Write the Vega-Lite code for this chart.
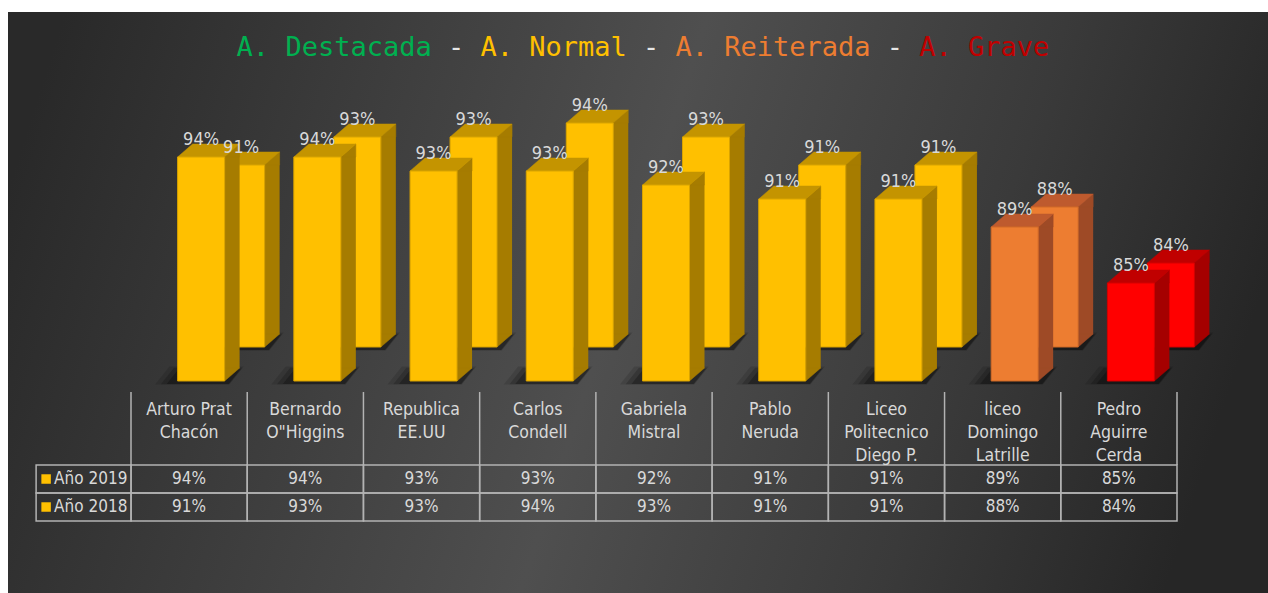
{
  "$schema": "https://vega.github.io/schema/vega-lite/v6.json",
  "width": 1268,
  "height": 593,
  "autosize": {"type": "fit", "contains": "padding"},
  "padding": {"left": 8, "top": 12, "right": 0, "bottom": 0},
  "background": "#ffffff",
  "view": {
    "stroke": null,
    "fill": {
      "gradient": "linear",
      "x1": 0, "y1": 0.3, "x2": 1, "y2": 0.45,
      "stops": [
        {"offset": 0, "color": "#292929"},
        {"offset": 0.22, "color": "#3a3a3a"},
        {"offset": 0.5, "color": "#4f4f4f"},
        {"offset": 0.78, "color": "#3a3a3a"},
        {"offset": 1, "color": "#262626"}
      ]
    }
  },
  "config": {
    "text": {"font": "DejaVu Sans Condensed, Liberation Sans Narrow, Roboto, sans-serif"}
  },
  "data": {
    "values": [
      {"school": "Arturo Prat\nChacón", "year": 2019, "value": 0.94},
      {"school": "Arturo Prat\nChacón", "year": 2018, "value": 0.91},
      {"school": "Bernardo\nO\"Higgins", "year": 2019, "value": 0.94},
      {"school": "Bernardo\nO\"Higgins", "year": 2018, "value": 0.93},
      {"school": "Republica\nEE.UU", "year": 2019, "value": 0.93},
      {"school": "Republica\nEE.UU", "year": 2018, "value": 0.93},
      {"school": "Carlos\nCondell", "year": 2019, "value": 0.93},
      {"school": "Carlos\nCondell", "year": 2018, "value": 0.94},
      {"school": "Gabriela\nMistral", "year": 2019, "value": 0.92},
      {"school": "Gabriela\nMistral", "year": 2018, "value": 0.93},
      {"school": "Pablo\nNeruda", "year": 2019, "value": 0.91},
      {"school": "Pablo\nNeruda", "year": 2018, "value": 0.91},
      {"school": "Liceo\nPolitecnico\nDiego P.", "year": 2019, "value": 0.91},
      {"school": "Liceo\nPolitecnico\nDiego P.", "year": 2018, "value": 0.91},
      {"school": "liceo\nDomingo\nLatrille", "year": 2019, "value": 0.89},
      {"school": "liceo\nDomingo\nLatrille", "year": 2018, "value": 0.88},
      {"school": "Pedro\nAguirre\nCerda", "year": 2019, "value": 0.85},
      {"school": "Pedro\nAguirre\nCerda", "year": 2018, "value": 0.84}
    ]
  },
  "encoding": {
    "x": {
      "field": "school", "type": "nominal", "sort": null, "axis": null,
      "scale": {
        "type": "band",
        "domain": ["Arturo Prat\nChacón", "Bernardo\nO\"Higgins", "Republica\nEE.UU", "Carlos\nCondell", "Gabriela\nMistral", "Pablo\nNeruda", "Liceo\nPolitecnico\nDiego P.", "liceo\nDomingo\nLatrille", "Pedro\nAguirre\nCerda"],
        "range": [123, 1169],
        "paddingInner": 0,
        "paddingOuter": 0
      }
    }
  },
  "resolve": {"scale": {"y": "independent"}},
  "layer": [
    {
      "encoding": {
        "y": {"field": "value", "type": "quantitative", "axis": null,
              "scale": {"domain": [0.62857, 1.04357], "nice": false, "zero": false}}
      },
      "layer": [
        {
          "transform": [{"filter": "datum.year === 2018"}],
          "mark": {"type": "point", "filled": true, "size": 5.76, "shape": "M-58,3L4,3L16,-12L-46,-12Z", "xOffset": 75.5, "yOffset": -34, "fill": "#000000", "opacity": 0.12, "strokeWidth": 0},
          "encoding": {"y": {"datum": 0.78}}
        },
        {
          "transform": [{"filter": "datum.year === 2018"}],
          "mark": {"type": "point", "filled": true, "size": 4.84, "shape": "M-58,3L4,3L16,-12L-46,-12Z", "xOffset": 75.5, "yOffset": -34, "fill": "#000000", "opacity": 0.18, "strokeWidth": 0},
          "encoding": {"y": {"datum": 0.78}}
        },
        {
          "transform": [{"filter": "datum.year === 2018"}],
          "mark": {"type": "point", "filled": true, "size": 4, "shape": "M-58,3L4,3L16,-12L-46,-12Z", "xOffset": 75.5, "yOffset": -34, "fill": "#000000", "opacity": 0.25, "strokeWidth": 0},
          "encoding": {"y": {"datum": 0.78}}
        },
        {
          "transform": [{"filter": "datum.year === 2019"}],
          "mark": {"type": "point", "filled": true, "size": 5.76, "shape": "M-58,3L4,3L16,-12L-46,-12Z", "xOffset": 35.5, "fill": "#000000", "opacity": 0.12, "strokeWidth": 0},
          "encoding": {"y": {"datum": 0.78}}
        },
        {
          "transform": [{"filter": "datum.year === 2019"}],
          "mark": {"type": "point", "filled": true, "size": 4.84, "shape": "M-58,3L4,3L16,-12L-46,-12Z", "xOffset": 35.5, "fill": "#000000", "opacity": 0.18, "strokeWidth": 0},
          "encoding": {"y": {"datum": 0.78}}
        },
        {
          "transform": [{"filter": "datum.year === 2019"}],
          "mark": {"type": "point", "filled": true, "size": 4, "shape": "M-58,3L4,3L16,-12L-46,-12Z", "xOffset": 35.5, "fill": "#000000", "opacity": 0.25, "strokeWidth": 0},
          "encoding": {"y": {"datum": 0.78}}
        },
        {
          "transform": [{"filter": "datum.year === 2018"}],
          "mark": {"type": "bar", "width": 15, "xOffset": 83, "yOffset": -34, "y2Offset": -47},
          "encoding": {
            "y2": {"datum": 0.78},
            "fill": {"condition": [{"test": "datum.school === 'Pedro\\nAguirre\\nCerda'", "value": "#A50000"}, {"test": "datum.school === 'liceo\\nDomingo\\nLatrille'", "value": "#9E4A26"}], "value": "#A67C00"}
          }
        },
        {
          "transform": [{"filter": "datum.year === 2018"}],
          "mark": {"type": "point", "filled": true, "opacity": 1, "size": 4, "shape": "M0,0L15,-13L15,0Z", "xOffset": 75.5, "yOffset": -34, "strokeWidth": 0.5},
          "encoding": {
            "fill": {"condition": [{"test": "datum.school === 'Pedro\\nAguirre\\nCerda'", "value": "#A50000"}, {"test": "datum.school === 'liceo\\nDomingo\\nLatrille'", "value": "#9E4A26"}], "value": "#A67C00"},
            "stroke": {"condition": [{"test": "datum.school === 'Pedro\\nAguirre\\nCerda'", "value": "#A50000"}, {"test": "datum.school === 'liceo\\nDomingo\\nLatrille'", "value": "#9E4A26"}], "value": "#A67C00"}
          }
        },
        {
          "transform": [{"filter": "datum.year === 2018"}],
          "mark": {"type": "point", "filled": true, "opacity": 1, "size": 4, "shape": "M0,-13L15,-13L0,0Z", "xOffset": 75.5, "yOffset": -34, "strokeWidth": 0.5},
          "encoding": {
            "y": {"datum": 0.78},
            "fill": {"condition": [{"test": "datum.school === 'Pedro\\nAguirre\\nCerda'", "value": "#A50000"}, {"test": "datum.school === 'liceo\\nDomingo\\nLatrille'", "value": "#9E4A26"}], "value": "#A67C00"},
            "stroke": {"condition": [{"test": "datum.school === 'Pedro\\nAguirre\\nCerda'", "value": "#A50000"}, {"test": "datum.school === 'liceo\\nDomingo\\nLatrille'", "value": "#9E4A26"}], "value": "#A67C00"}
          }
        },
        {
          "transform": [{"filter": "datum.year === 2018"}],
          "mark": {"type": "point", "filled": true, "opacity": 1, "size": 4, "shape": "M-47,0L0,0L15,-13L-32,-13Z", "xOffset": 75.5, "yOffset": -34, "strokeWidth": 0.5},
          "encoding": {
            "fill": {"condition": [{"test": "datum.school === 'Pedro\\nAguirre\\nCerda'", "value": "#C00000"}, {"test": "datum.school === 'liceo\\nDomingo\\nLatrille'", "value": "#BE5A2E"}], "value": "#C49400"},
            "stroke": {"condition": [{"test": "datum.school === 'Pedro\\nAguirre\\nCerda'", "value": "#C00000"}, {"test": "datum.school === 'liceo\\nDomingo\\nLatrille'", "value": "#BE5A2E"}], "value": "#C49400"}
          }
        },
        {
          "transform": [{"filter": "datum.year === 2018"}],
          "mark": {"type": "bar", "width": 47, "xOffset": 52, "yOffset": -34, "y2Offset": -34, "strokeWidth": 1},
          "encoding": {
            "y2": {"datum": 0.78},
            "fill": {"condition": [{"test": "datum.school === 'Pedro\\nAguirre\\nCerda'", "value": "#FF0000"}, {"test": "datum.school === 'liceo\\nDomingo\\nLatrille'", "value": "#ED7D31"}], "value": "#FFC000"},
            "stroke": {"condition": [{"test": "datum.school === 'Pedro\\nAguirre\\nCerda'", "value": "#D40000"}, {"test": "datum.school === 'liceo\\nDomingo\\nLatrille'", "value": "#D06A28"}], "value": "#D9A300"}
          }
        },
        {
          "transform": [{"filter": "datum.year === 2019"}],
          "mark": {"type": "bar", "width": 15, "xOffset": 43, "y2Offset": -13},
          "encoding": {
            "y2": {"datum": 0.78},
            "fill": {"condition": [{"test": "datum.school === 'Pedro\\nAguirre\\nCerda'", "value": "#A50000"}, {"test": "datum.school === 'liceo\\nDomingo\\nLatrille'", "value": "#9E4A26"}], "value": "#A67C00"}
          }
        },
        {
          "transform": [{"filter": "datum.year === 2019"}],
          "mark": {"type": "point", "filled": true, "opacity": 1, "size": 4, "shape": "M0,0L15,-13L15,0Z", "xOffset": 35.5, "strokeWidth": 0.5},
          "encoding": {
            "fill": {"condition": [{"test": "datum.school === 'Pedro\\nAguirre\\nCerda'", "value": "#A50000"}, {"test": "datum.school === 'liceo\\nDomingo\\nLatrille'", "value": "#9E4A26"}], "value": "#A67C00"},
            "stroke": {"condition": [{"test": "datum.school === 'Pedro\\nAguirre\\nCerda'", "value": "#A50000"}, {"test": "datum.school === 'liceo\\nDomingo\\nLatrille'", "value": "#9E4A26"}], "value": "#A67C00"}
          }
        },
        {
          "transform": [{"filter": "datum.year === 2019"}],
          "mark": {"type": "point", "filled": true, "opacity": 1, "size": 4, "shape": "M0,-13L15,-13L0,0Z", "xOffset": 35.5, "strokeWidth": 0.5},
          "encoding": {
            "y": {"datum": 0.78},
            "fill": {"condition": [{"test": "datum.school === 'Pedro\\nAguirre\\nCerda'", "value": "#A50000"}, {"test": "datum.school === 'liceo\\nDomingo\\nLatrille'", "value": "#9E4A26"}], "value": "#A67C00"},
            "stroke": {"condition": [{"test": "datum.school === 'Pedro\\nAguirre\\nCerda'", "value": "#A50000"}, {"test": "datum.school === 'liceo\\nDomingo\\nLatrille'", "value": "#9E4A26"}], "value": "#A67C00"}
          }
        },
        {
          "transform": [{"filter": "datum.year === 2019"}],
          "mark": {"type": "point", "filled": true, "opacity": 1, "size": 4, "shape": "M-47,0L0,0L15,-13L-32,-13Z", "xOffset": 35.5, "strokeWidth": 0.5},
          "encoding": {
            "fill": {"condition": [{"test": "datum.school === 'Pedro\\nAguirre\\nCerda'", "value": "#C00000"}, {"test": "datum.school === 'liceo\\nDomingo\\nLatrille'", "value": "#BE5A2E"}], "value": "#C49400"},
            "stroke": {"condition": [{"test": "datum.school === 'Pedro\\nAguirre\\nCerda'", "value": "#C00000"}, {"test": "datum.school === 'liceo\\nDomingo\\nLatrille'", "value": "#BE5A2E"}], "value": "#C49400"}
          }
        },
        {
          "transform": [{"filter": "datum.year === 2019"}],
          "mark": {"type": "bar", "width": 47, "xOffset": 12, "strokeWidth": 1},
          "encoding": {
            "y2": {"datum": 0.78},
            "fill": {"condition": [{"test": "datum.school === 'Pedro\\nAguirre\\nCerda'", "value": "#FF0000"}, {"test": "datum.school === 'liceo\\nDomingo\\nLatrille'", "value": "#ED7D31"}], "value": "#FFC000"},
            "stroke": {"condition": [{"test": "datum.school === 'Pedro\\nAguirre\\nCerda'", "value": "#D40000"}, {"test": "datum.school === 'liceo\\nDomingo\\nLatrille'", "value": "#D06A28"}], "value": "#D9A300"}
          }
        },
        {
          "transform": [{"filter": "datum.year === 2018"}],
          "mark": {"type": "text", "xOffset": 52, "yOffset": -46, "baseline": "alphabetic", "align": "center", "fontSize": 18, "fill": "#D9D9D9"},
          "encoding": {"text": {"field": "value", "type": "quantitative", "format": ".0%"}}
        },
        {
          "transform": [{"filter": "datum.year === 2019"}],
          "mark": {"type": "text", "xOffset": 12, "yOffset": -12, "baseline": "alphabetic", "align": "center", "fontSize": 18, "fill": "#D9D9D9"},
          "encoding": {"text": {"field": "value", "type": "quantitative", "format": ".0%"}}
        }
      ]
    },
    {
      "encoding": {
        "y": {"field": "year", "type": "quantitative", "axis": null,
              "scale": {"domain": [2014.929, 2035.679], "nice": false, "zero": false}}
      },
      "layer": [
        {
          "mark": {"type": "bar", "fillOpacity": 0, "stroke": "#B3B3B3", "strokeWidth": 1.5, "yOffset": -14, "y2Offset": 14},
          "encoding": {"y2": {"field": "year"}}
        },
        {
          "transform": [{"filter": "datum.school === 'Arturo Prat\\nChacón'"}],
          "mark": {"type": "bar", "width": 95, "xOffset": -105.5, "fillOpacity": 0, "stroke": "#B3B3B3", "strokeWidth": 1.5, "yOffset": -14, "y2Offset": 14},
          "encoding": {"y2": {"field": "year"}}
        },
        {
          "transform": [{"filter": "datum.year === 2019"}],
          "mark": {"type": "rule", "stroke": "#B3B3B3", "strokeWidth": 1.5},
          "encoding": {
            "x": {"field": "school", "type": "nominal", "bandPosition": 0},
            "y": {"datum": 2022.107},
            "y2": {"datum": 2019.5}
          }
        },
        {
          "transform": [{"filter": "datum.year === 2019 && datum.school === 'Pedro\\nAguirre\\nCerda'"}],
          "mark": {"type": "rule", "stroke": "#B3B3B3", "strokeWidth": 1.5},
          "encoding": {
            "x": {"field": "school", "type": "nominal", "bandPosition": 1},
            "y": {"datum": 2022.107},
            "y2": {"datum": 2019.5}
          }
        },
        {
          "transform": [{"filter": "datum.year === 2019"}],
          "mark": {"type": "text", "baseline": "top", "align": "center", "lineBreak": "\n", "lineHeight": 23, "fontSize": 17.5, "fill": "#D9D9D9"},
          "encoding": {
            "y": {"datum": 2021.8},
            "text": {"field": "school", "type": "nominal"}
          }
        },
        {
          "mark": {"type": "text", "baseline": "middle", "align": "center", "fontSize": 17, "fill": "#D9D9D9"},
          "encoding": {"text": {"field": "value", "type": "quantitative", "format": ".0%"}}
        },
        {
          "transform": [{"filter": "datum.school === 'Arturo Prat\\nChacón'"}],
          "mark": {"type": "point", "shape": "square", "filled": true, "opacity": 1, "size": 90, "fill": "#FFC000", "xOffset": -143},
          "encoding": {}
        },
        {
          "transform": [{"filter": "datum.school === 'Arturo Prat\\nChacón'"}],
          "mark": {"type": "text", "baseline": "middle", "align": "left", "fontSize": 17, "fill": "#D9D9D9", "xOffset": -135},
          "encoding": {"text": {"value": {"expr": "'Año ' + datum.year"}}}
        },
        {
          "transform": [{"filter": "datum.year === 2019 && datum.school === 'Gabriela\\nMistral'"}],
          "mark": {"type": "text", "font": "DejaVu Sans Mono", "fontSize": 27, "align": "center", "baseline": "alphabetic", "xOffset": -11, "fill": "#00B050",
                   "text": "\u200bA. Destacada\u00a0\u00a0\u00a0\u00a0\u00a0\u00a0\u00a0\u00a0\u00a0\u00a0\u00a0\u00a0\u00a0\u00a0\u00a0\u00a0\u00a0\u00a0\u00a0\u00a0\u00a0\u00a0\u00a0\u00a0\u00a0\u00a0\u00a0\u00a0\u00a0\u00a0\u00a0\u00a0\u00a0\u00a0\u00a0\u00a0\u00a0\u00a0\u200b"},
          "encoding": {"y": {"datum": 2034.107}}
        },
        {
          "transform": [{"filter": "datum.year === 2019 && datum.school === 'Gabriela\\nMistral'"}],
          "mark": {"type": "text", "font": "DejaVu Sans Mono", "fontSize": 27, "align": "center", "baseline": "alphabetic", "xOffset": -11, "fill": "#E6E6E6",
                   "text": "\u200b\u00a0\u00a0\u00a0\u00a0\u00a0\u00a0\u00a0\u00a0\u00a0\u00a0\u00a0\u00a0\u00a0-\u00a0\u00a0\u00a0\u00a0\u00a0\u00a0\u00a0\u00a0\u00a0\u00a0\u00a0-\u00a0\u00a0\u00a0\u00a0\u00a0\u00a0\u00a0\u00a0\u00a0\u00a0\u00a0\u00a0\u00a0\u00a0-\u00a0\u00a0\u00a0\u00a0\u00a0\u00a0\u00a0\u00a0\u00a0\u200b"},
          "encoding": {"y": {"datum": 2034.107}}
        },
        {
          "transform": [{"filter": "datum.year === 2019 && datum.school === 'Gabriela\\nMistral'"}],
          "mark": {"type": "text", "font": "DejaVu Sans Mono", "fontSize": 27, "align": "center", "baseline": "alphabetic", "xOffset": -11, "fill": "#FFC000",
                   "text": "\u200b\u00a0\u00a0\u00a0\u00a0\u00a0\u00a0\u00a0\u00a0\u00a0\u00a0\u00a0\u00a0\u00a0\u00a0\u00a0A. Normal\u00a0\u00a0\u00a0\u00a0\u00a0\u00a0\u00a0\u00a0\u00a0\u00a0\u00a0\u00a0\u00a0\u00a0\u00a0\u00a0\u00a0\u00a0\u00a0\u00a0\u00a0\u00a0\u00a0\u00a0\u00a0\u00a0\u200b"},
          "encoding": {"y": {"datum": 2034.107}}
        },
        {
          "transform": [{"filter": "datum.year === 2019 && datum.school === 'Gabriela\\nMistral'"}],
          "mark": {"type": "text", "font": "DejaVu Sans Mono", "fontSize": 27, "align": "center", "baseline": "alphabetic", "xOffset": -11, "fill": "#ED7D31",
                   "text": "\u200b\u00a0\u00a0\u00a0\u00a0\u00a0\u00a0\u00a0\u00a0\u00a0\u00a0\u00a0\u00a0\u00a0\u00a0\u00a0\u00a0\u00a0\u00a0\u00a0\u00a0\u00a0\u00a0\u00a0\u00a0\u00a0\u00a0\u00a0A. Reiterada\u00a0\u00a0\u00a0\u00a0\u00a0\u00a0\u00a0\u00a0\u00a0\u00a0\u00a0\u200b"},
          "encoding": {"y": {"datum": 2034.107}}
        },
        {
          "transform": [{"filter": "datum.year === 2019 && datum.school === 'Gabriela\\nMistral'"}],
          "mark": {"type": "text", "font": "DejaVu Sans Mono", "fontSize": 27, "align": "center", "baseline": "alphabetic", "xOffset": -11, "fill": "#C00000",
                   "text": "\u200b\u00a0\u00a0\u00a0\u00a0\u00a0\u00a0\u00a0\u00a0\u00a0\u00a0\u00a0\u00a0\u00a0\u00a0\u00a0\u00a0\u00a0\u00a0\u00a0\u00a0\u00a0\u00a0\u00a0\u00a0\u00a0\u00a0\u00a0\u00a0\u00a0\u00a0\u00a0\u00a0\u00a0\u00a0\u00a0\u00a0\u00a0\u00a0\u00a0\u00a0\u00a0\u00a0A. Grave\u200b"},
          "encoding": {"y": {"datum": 2034.107}}
        }
      ]
    }
  ]
}
